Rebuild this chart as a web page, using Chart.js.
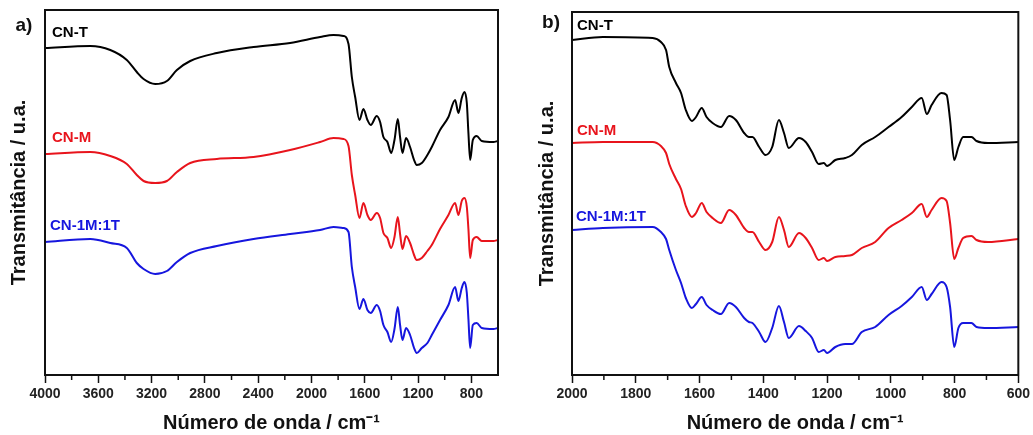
<!DOCTYPE html>
<html>
<head>
<meta charset="utf-8">
<script src="https://cdn.jsdelivr.net/npm/chart.js@4.4.0/dist/chart.umd.min.js"></script>
<style>
    html, body { margin: 0; padding: 0; background: #fff; }
    #caja { position: relative; width: 1033px; height: 435px; }
    #cajaA { position: absolute; left: 0; top: 0; width: 520px; height: 435px; }
    #cajaB { position: absolute; left: 520px; top: 0; width: 513px; height: 435px; }
</style>
</head>
<body>
<div id="caja">
    <div id="cajaA"><canvas id="graficoA"></canvas></div>
    <div id="cajaB"><canvas id="graficoB"></canvas></div>
</div>
<script>
// Panel a) espectro completo
const ondaA = [4000, 3660, 3510, 3386, 3311, 3260, 3173, 3085, 3010, 2910, 2710, 2435, 2160, 1935, 1835, 1760, 1722, 1697, 1672, 1640,
    1610, 1580, 1555, 1510, 1485, 1460, 1430, 1402, 1377, 1352, 1335, 1317, 1290, 1260, 1230, 1210, 1172, 1130, 1097, 1035,
    972, 922, 897, 872, 852, 834, 822, 809, 789, 760, 722, 635, 600];
const cnT_A = [327, 329, 325, 315, 303, 296, 291, 294, 305, 314, 322, 328, 332, 338, 340, 339, 331, 298, 278, 255,
    266, 255, 250, 259, 253, 238, 233, 222, 235, 256, 238, 222, 237, 228, 215, 210, 212, 220, 228, 245,
    258, 275, 262, 277, 283, 272, 242, 215, 235, 239, 234, 233, 234];
const cnM_A = [221, 223, 219, 211, 200, 194, 192, 194, 203, 212, 216, 218, 225, 233, 237, 236, 229, 200, 180, 157,
    172, 160, 155, 162, 157, 142, 137, 127, 138, 158, 141, 126, 139, 132, 120, 115, 117, 124, 130, 146,
    160, 172, 160, 174, 177, 168, 146, 117, 135, 138, 134, 134, 135];
const cn1M1T_A = [133, 136, 132, 127, 112, 106, 101, 104, 113, 122, 129, 136, 141, 145, 148, 147, 143, 108, 88, 66,
    76, 65, 62, 70, 64, 50, 43, 33, 46, 68, 50, 35, 47, 40, 27, 22, 27, 32, 40, 55,
    70, 88, 74, 87, 93, 82, 56, 27, 50, 52, 47, 46, 47];
const ticksA = [4000, 3600, 3200, 2800, 2400, 2000, 1600, 1200, 800];
const menoresA = [3800, 3400, 3000, 2600, 2200, 1800, 1400, 1000];

// Panel b) region 2000-600
const ondaB = [2000, 1903, 1747, 1721, 1705, 1695, 1674, 1658, 1643, 1624, 1611, 1593, 1578, 1559, 1533, 1507, 1486, 1460, 1445, 1434,
    1413, 1393, 1372, 1351, 1335, 1320, 1288, 1267, 1247, 1226, 1210, 1200, 1174, 1143, 1122, 1091, 1049, 1007, 966, 934,
    903, 887, 872, 841, 825, 814, 801, 788, 773, 747, 731, 695, 600];
const cnT_B = [335, 338, 337, 333, 325, 308, 292, 282, 265, 254, 258, 267, 258, 252, 248, 259, 255, 242, 238, 238,
    228, 220, 228, 255, 242, 227, 237, 233, 223, 211, 212, 209, 215, 217, 220, 230, 238, 248, 258, 268,
    277, 261, 270, 282, 280, 255, 215, 228, 238, 238, 234, 232, 233];
const cnM_B = [232, 233, 233, 229, 222, 211, 196, 186, 169, 158, 162, 172, 163, 157, 152, 165, 160, 147, 143, 143,
    133, 125, 133, 158, 145, 128, 142, 137, 127, 115, 117, 114, 118, 119, 120, 127, 133, 147, 155, 162,
    171, 158, 165, 177, 174, 152, 116, 127, 137, 139, 135, 133, 136];
const cn1M1T_B = [145, 147, 148, 143, 136, 125, 105, 92, 77, 67, 71, 78, 70, 65, 61, 72, 68, 57, 53, 52,
    43, 33, 47, 69, 53, 37, 49, 44, 37, 23, 25, 22, 28, 31, 31, 43, 48, 60, 69, 78,
    88, 75, 81, 93, 88, 68, 28, 47, 52, 52, 48, 47, 48];
const ticksB = [2000, 1800, 1600, 1400, 1200, 1000, 800, 600];
const menoresB = [1900, 1700, 1500, 1300, 1100, 900, 700];

const FUENTE = '"Liberation Sans", Arial, Helvetica, sans-serif';
const NEGRO = '#000000';
const ROJO = '#e8141c';
const AZUL = '#1616de';

function serie(onda, valores, color) {
    return {
        data: onda.map((x, i) => ({ x: x, y: valores[i] })),
        borderColor: color,
        borderWidth: 2,
        pointRadius: 0,
        cubicInterpolationMode: 'monotone',
        fill: false
    };
}

const rotulos = {
    id: 'rotulos',
    afterDraw(chart, args, opts) {
        const ctx = chart.ctx;
        const { left, top, right, bottom } = chart.chartArea;
        ctx.save();
        ctx.strokeStyle = '#111';
        ctx.lineWidth = 2;
        ctx.strokeRect(left, top, right - left, bottom - top);

        const escala = chart.scales.x;
        ctx.lineWidth = 1.5;
        opts.menores.forEach(v => {
            const px = escala.getPixelForValue(v);
            ctx.beginPath();
            ctx.moveTo(px, bottom);
            ctx.lineTo(px, bottom + 5);
            ctx.stroke();
        });

        ctx.textBaseline = 'middle';
        ctx.textAlign = 'center';
        ctx.fillStyle = '#111';
        ctx.font = 'bold 19px ' + FUENTE;
        ctx.fillText(opts.letra.texto, opts.letra.x, opts.letra.y);

        ctx.textAlign = 'left';
        ctx.font = 'bold 15px ' + FUENTE;
        opts.nombres.forEach(n => {
            ctx.fillStyle = n.color;
            ctx.fillText(n.texto, n.x, n.y);
        });
        ctx.restore();
    }
};

function dibujarGrafico(id, cfg) {
    const ctx = document.getElementById(id).getContext('2d');
    return new Chart(ctx, {
        type: 'line',
        data: {
            datasets: [
                serie(cfg.onda, cfg.t, NEGRO),
                serie(cfg.onda, cfg.m, ROJO),
                serie(cfg.onda, cfg.mt, AZUL)
            ]
        },
        options: {
            responsive: true,
            maintainAspectRatio: false,
            animation: false,
            events: [],
            layout: { padding: { left: 0, top: cfg.arriba, right: cfg.derecha, bottom: 0 } },
            scales: {
                x: {
                    type: 'linear',
                    reverse: true,
                    min: cfg.min,
                    max: cfg.max,
                    afterBuildTicks: s => { s.ticks = cfg.ticks.map(v => ({ value: v })); },
                    afterFit: s => { s.height = 60; },
                    border: { display: true, color: '#111', width: 2 },
                    grid: { drawOnChartArea: false, drawTicks: true, tickLength: 8, tickWidth: 1.5, tickColor: '#111' },
                    ticks: {
                        autoSkip: false,
                        maxRotation: 0,
                        padding: 3,
                        color: '#222',
                        font: { family: FUENTE, size: 14, weight: 'bold' },
                        callback: v => String(v)
                    },
                    title: {
                        display: true,
                        text: 'Número de onda / cm⁻¹',
                        color: '#111',
                        padding: { top: 0, bottom: 0 },
                        font: { family: FUENTE, size: 20, weight: 'bold' }
                    }
                },
                y: {
                    min: 0,
                    max: cfg.ymax,
                    afterFit: s => { s.width = cfg.izquierda; },
                    border: { display: true, color: '#111', width: 2 },
                    grid: { display: false },
                    ticks: { display: false },
                    title: {
                        display: true,
                        text: 'Transmitância / u.a.',
                        color: '#111',
                        padding: { top: cfg.padTitulo, bottom: 0 },
                        font: { family: FUENTE, size: 20, weight: 'bold' }
                    }
                }
            },
            plugins: {
                legend: { display: false },
                tooltip: { enabled: false },
                rotulos: {
                    menores: cfg.menores,
                    letra: cfg.letra,
                    nombres: cfg.nombres
                }
            }
        },
        plugins: [rotulos]
    });
}

dibujarGrafico('graficoA', {
    onda: ondaA, t: cnT_A, m: cnM_A, mt: cn1M1T_A,
    min: 600, max: 4000, ymax: 365,
    ticks: ticksA, menores: menoresA,
    izquierda: 45, derecha: 22, arriba: 10, padTitulo: 7,
    letra: { texto: 'a)', x: 24, y: 26 },
    nombres: [
        { texto: 'CN-T', color: NEGRO, x: 52, y: 33 },
        { texto: 'CN-M', color: ROJO, x: 52, y: 138 },
        { texto: 'CN-1M:1T', color: AZUL, x: 50, y: 226 }
    ]
});

dibujarGrafico('graficoB', {
    onda: ondaB, t: cnT_B, m: cnM_B, mt: cn1M1T_B,
    min: 600, max: 2000, ymax: 363,
    ticks: ticksB, menores: menoresB,
    izquierda: 52, derecha: 13, arriba: 12, padTitulo: 15,
    letra: { texto: 'b)', x: 31, y: 23 },
    nombres: [
        { texto: 'CN-T', color: NEGRO, x: 57, y: 26 },
        { texto: 'CN-M', color: ROJO, x: 57, y: 131 },
        { texto: 'CN-1M:1T', color: AZUL, x: 56, y: 217 }
    ]
});
</script>
</body>
</html>
